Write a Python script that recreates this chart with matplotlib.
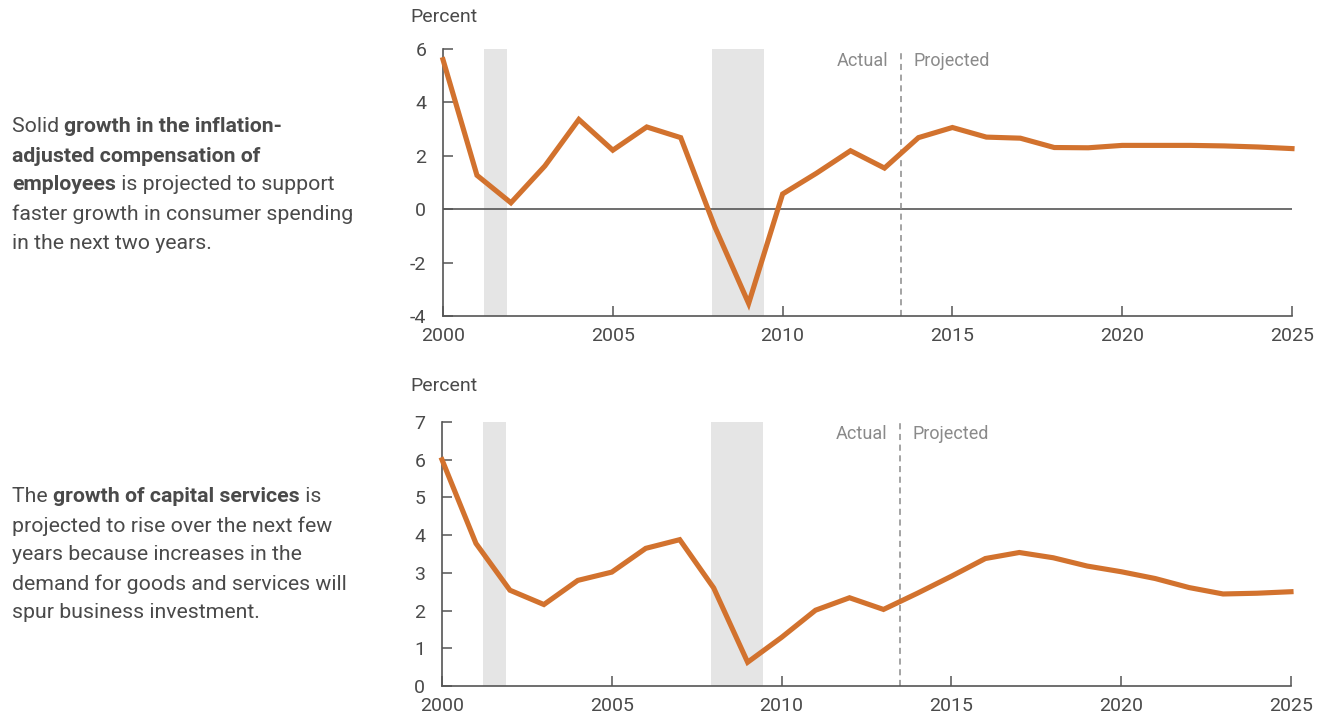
import matplotlib
matplotlib.use('Agg')
import matplotlib.pyplot as plt
import numpy as np

years = np.arange(2000, 2026)
compensation = [5.6, 1.27, 0.24, 1.62, 3.36, 2.21, 3.08, 2.68, -0.65, -3.53, 0.57, 1.35, 2.19, 1.54,
                 2.68, 3.06, 2.70, 2.66, 2.31, 2.30, 2.39, 2.39, 2.39, 2.37, 2.33, 2.27]
capital = [6.0, 3.78, 2.54, 2.16, 2.80, 3.02, 3.65, 3.88, 2.60, 0.63, 1.29, 2.01, 2.34, 2.03,
           2.46, 2.91, 3.38, 3.54, 3.40, 3.18, 3.03, 2.85, 2.61, 2.44, 2.46, 2.50]
recessions = [(2001.2, 2001.88), (2007.92, 2009.45)]
split_year = 2013.5

top_text = [
    [("Solid ", False), ("growth in the inflation-", True)],
    [("adjusted compensation of", True)],
    [("employees", True), (" is projected to support", False)],
    [("faster growth in consumer spending", False)],
    [("in the next two years.", False)],
]
bottom_text = [
    [("The ", False), ("growth of capital services", True), (" is", False)],
    [("projected to rise over the next few", False)],
    [("years because increases in the", False)],
    [("demand for goods and services will", False)],
    [("spur business investment.", False)],
]

ORANGE = '#D2722E'
DARK = '#4a4a4a'
GRAY = '#8a8a8a'
FONT = ['Roboto', 'DejaVu Sans']

W, H = 1325, 719
fig = plt.figure(figsize=(W / 100, H / 100), dpi=100)


def px_axes(left, top, right, bottom):
    return fig.add_axes([left / W, 1 - bottom / H, (right - left) / W, (bottom - top) / H])


def style_axes(ax, ylim, yticks, values, zero_line):
    ax.set_xlim(2000, 2025)
    ax.set_ylim(*ylim)
    for lo, hi in recessions:
        ax.axvspan(lo, hi, color='#e5e5e5', lw=0, zorder=0)
    if zero_line:
        ax.axhline(0, color='#555555', lw=1.2, zorder=1)
    ax.axvline(split_year, color=GRAY, lw=1.1, ls=(0, (4, 3)), zorder=1)
    ax.plot(years, values, color=ORANGE, lw=3.7, solid_joinstyle='miter', zorder=3, clip_on=False)
    for s in ['top', 'right']:
        ax.spines[s].set_visible(False)
    for s in ['left', 'bottom']:
        ax.spines[s].set_color('#555555')
        ax.spines[s].set_linewidth(1.2)
    ax.set_yticks(yticks)
    ax.set_yticklabels([str(t) for t in yticks])
    ax.set_xticks([2000, 2005, 2010, 2015, 2020, 2025])
    ax.tick_params(axis='both', direction='in', length=7, width=1.1, color='#555555',
                   labelcolor=DARK, labelsize=14)
    ax.tick_params(axis='y', pad=12)
    ax.tick_params(axis='x', pad=8)
    for lab in ax.get_xticklabels() + ax.get_yticklabels():
        lab.set_family(FONT)
    yoff = (ylim[1] - ylim[0]) * 0.045
    ax.text(split_year - 0.4, ylim[1] - yoff, 'Actual', ha='right', va='center',
            color=GRAY, fontsize=13, family=FONT)
    ax.text(split_year + 0.35, ylim[1] - yoff, 'Projected', ha='left', va='center',
            color=GRAY, fontsize=13, family=FONT)


ax1 = px_axes(443, 49, 1292, 316)
style_axes(ax1, (-4, 6), [-4, -2, 0, 2, 4, 6], compensation, True)
ax2 = px_axes(442, 422, 1291, 686)
style_axes(ax2, (0, 7), [0, 1, 2, 3, 4, 5, 6, 7], capital, False)

fig.text(410 / W, 1 - 17 / H, 'Percent', ha='left', va='center', color=DARK, fontsize=14, family=FONT)
fig.text(410 / W, 1 - 386 / H, 'Percent', ha='left', va='center', color=DARK, fontsize=14, family=FONT)

renderer = fig.canvas.get_renderer()

# size the body text so its widest line spans about 343 px, as in the reference
probe = fig.text(0, 0, "faster growth in consumer spending", fontsize=10, family=FONT)
body_size = 10 * 343 / probe.get_window_extent(renderer).width
probe.remove()


def rich_block(lines, x0, y0, step):
    for i, segs in enumerate(lines):
        x = x0
        y = y0 + i * step
        for txt, bold in segs:
            t = fig.text(x / W, 1 - y / H, txt, ha='left', va='center', fontsize=body_size,
                         family=FONT, color=DARK, fontweight='bold' if bold else 'normal')
            x += t.get_window_extent(renderer).width


rich_block(top_text, 12, 127, 29)
rich_block(bottom_text, 12, 497, 29)

fig.savefig('out.png', dpi=100)
